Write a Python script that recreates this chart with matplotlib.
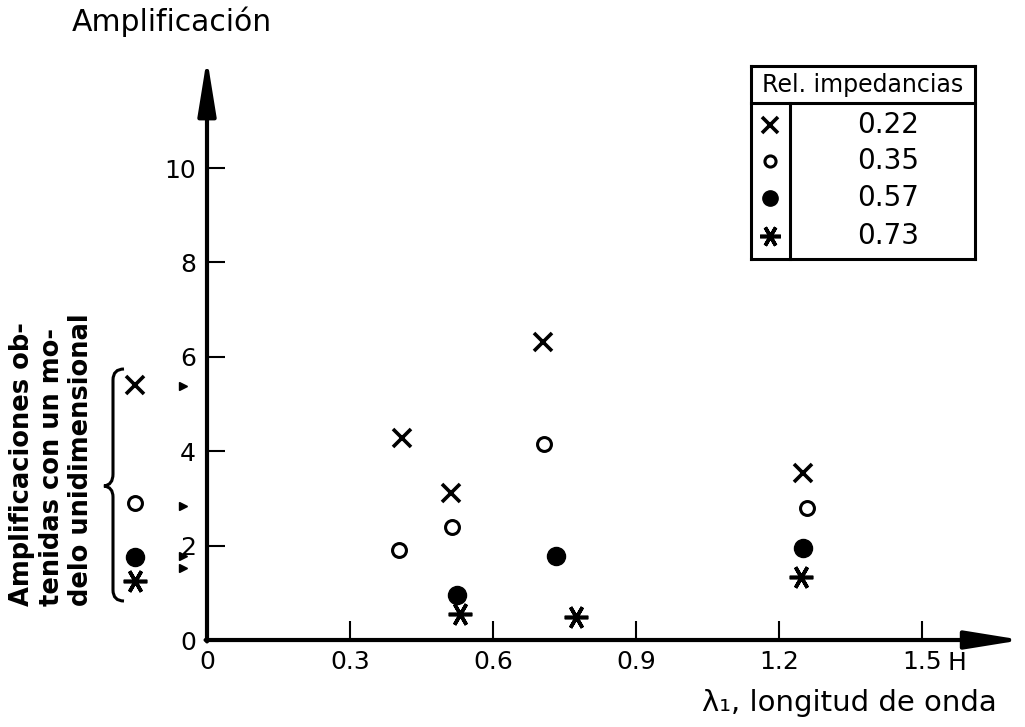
import matplotlib
matplotlib.use("Agg")
import matplotlib.pyplot as plt
import matplotlib.transforms as mtransforms
from matplotlib.path import Path
from matplotlib.patches import PathPatch

# ---------------- data ----------------
ratios = ["0.22", "0.35", "0.57", "0.73"]

lam_022 = [0.408, 0.511, 0.704, 1.250]
amp_022 = [4.27, 3.12, 6.32, 3.53]
lam_035 = [0.403, 0.513, 0.707, 1.258]
amp_035 = [1.91, 2.40, 4.15, 2.80]
lam_057 = [0.525, 0.731, 1.250]
amp_057 = [0.95, 1.78, 1.94]
lam_073 = [0.530, 0.773, 1.245]
amp_073 = [0.56, 0.48, 1.34]

# one-dimensional model amplifications (0.22, 0.35, 0.57, 0.73)
oned_amp = [5.40, 2.90, 1.76, 1.24]
# small arrow marks on the amplification axis
mark_amp = [5.38, 2.84, 1.78, 1.52]

xticks = [0, 0.3, 0.6, 0.9, 1.2, 1.5]
xticklabels = ["0", "0.3", "0.6", "0.9", "1.2", "1.5"]
yticks = [0, 2, 4, 6, 8, 10]
yticklabels = ["0", "2", "4", "6", "8", "10"]

# ---------------- figure ----------------
W, H = 1025, 727
fig = plt.figure(figsize=(W / 100, H / 100), dpi=100)
ax = fig.add_axes([0, 0, 1, 1])
ax.set_xlim(-0.434, 1.715)
ax.set_ylim(-1.843, 13.56)
ax.patch.set_visible(False)
for s in ["top", "right"]:
    ax.spines[s].set_visible(False)
ax.spines["left"].set_position(("data", 0))
ax.spines["bottom"].set_position(("data", 0))
ax.spines["left"].set_visible(False)
ax.spines["bottom"].set_visible(False)

pix = mtransforms.Affine2D().scale(1 / W, -1 / H).translate(0, 1) + fig.transFigure

FS = 18
ax.set_xticks(xticks)
ax.set_xticklabels(xticklabels, fontsize=FS)
ax.set_yticks(yticks)
ax.set_yticklabels(yticklabels, fontsize=FS)
ax.tick_params(axis="x", direction="in", length=14, width=1.5, pad=7)
ax.tick_params(axis="y", direction="in", length=13, width=1.5, pad=8)
ax.text(947, 663, "H", transform=pix, fontsize=FS, ha="left", va="center")

# axes arrows
arrowkw = dict(arrowstyle="-|>,head_length=34,head_width=5.5", lw=3, color="black",
               shrinkA=0, shrinkB=0, mutation_scale=1)
ax.annotate("", xy=(0, 12.33), xytext=(0, -0.03), arrowprops=arrowkw)
ax.annotate("", xy=(1.709, 0), xytext=(-0.003, 0), arrowprops=arrowkw)

# data markers
ms_x = dict(marker="x", ms=13, mew=2.6, color="black", ls="none")
ms_o = dict(marker="o", ms=10, mew=2.2, mfc="white", mec="black", ls="none")
ms_f = dict(marker="o", ms=13, color="black", ls="none")
ms_s = dict(marker=(6, 2, 90), ms=17, mew=2.6, color="black", ls="none")

ax.plot(lam_022, amp_022, **ms_x)
ax.plot(lam_035, amp_035, **ms_o)
ax.plot(lam_057, amp_057, **ms_f)
ax.plot(lam_073, amp_073, **ms_s)

# one-dimensional model values, outside the axis
x_od = -0.151
for amp, st in zip(oned_amp, [ms_x, ms_o, ms_f, ms_s]):
    ax.plot([x_od], [amp], clip_on=False, **st)
ax.plot([-0.05] * len(mark_amp), mark_amp, marker=">", ms=6, color="black",
        ls="none", clip_on=False)

# brace
verts = [(124, 369), (113, 369), (113, 380),
         (113, 474), (113, 485), (104, 486),
         (113, 487), (113, 497),
         (113, 590), (113, 601), (124, 601)]
codes = [Path.MOVETO, Path.CURVE3, Path.CURVE3,
         Path.LINETO, Path.CURVE3, Path.CURVE3,
         Path.CURVE3, Path.CURVE3,
         Path.LINETO, Path.CURVE3, Path.CURVE3]
ax.add_patch(PathPatch(Path(verts, codes), transform=pix, fill=False, lw=2.2,
                       color="black", clip_on=False))

# rotated side label
ax.text(9, 606, "Amplificaciones ob-\ntenidas con un mo-\ndelo unidimensional",
        transform=pix, rotation=90, rotation_mode="anchor", ha="left", va="top",
        fontsize=18.5, linespacing=1.18, multialignment="left", fontweight="bold")

# titles
ax.text(72, 22, "Amplificación", transform=pix, fontsize=21.5, ha="left", va="center")
ax.text(997, 703, "λ\u2081, longitud de onda", transform=pix, fontsize=21,
        ha="right", va="center")

# legend table
L, R, T, HB, B, V = 751, 975, 66, 103, 259, 790
lw_t = 2.2
for (x0, y0, x1, y1) in [(L, T, R, T), (L, B, R, B), (L, T, L, B), (R, T, R, B),
                         (L, HB, R, HB), (V, HB, V, B)]:
    ax.plot([x0, x1], [y0, y1], transform=pix, color="black", lw=lw_t,
            solid_capstyle="projecting", clip_on=False)
ax.text((L + R) / 2, 85, "Rel. impedancias", transform=pix, fontsize=17,
        ha="center", va="center")
row_y = [125, 161, 198, 236]
for yy, lab, st in zip(row_y, ratios, [ms_x, ms_o, ms_f, ms_s]):
    st2 = dict(st)
    if st2["marker"] == "x":
        st2["ms"] = 11
    elif st2.get("mfc") == "white":
        st2["ms"] = 8
    elif st2["marker"] == "o":
        st2["ms"] = 11
    else:
        st2["ms"] = 15
    ax.plot([770], [yy], transform=pix, clip_on=False, **st2)
    ax.text(888, yy, lab, transform=pix, fontsize=20, ha="center", va="center")

fig.savefig("out.png", dpi=100)
